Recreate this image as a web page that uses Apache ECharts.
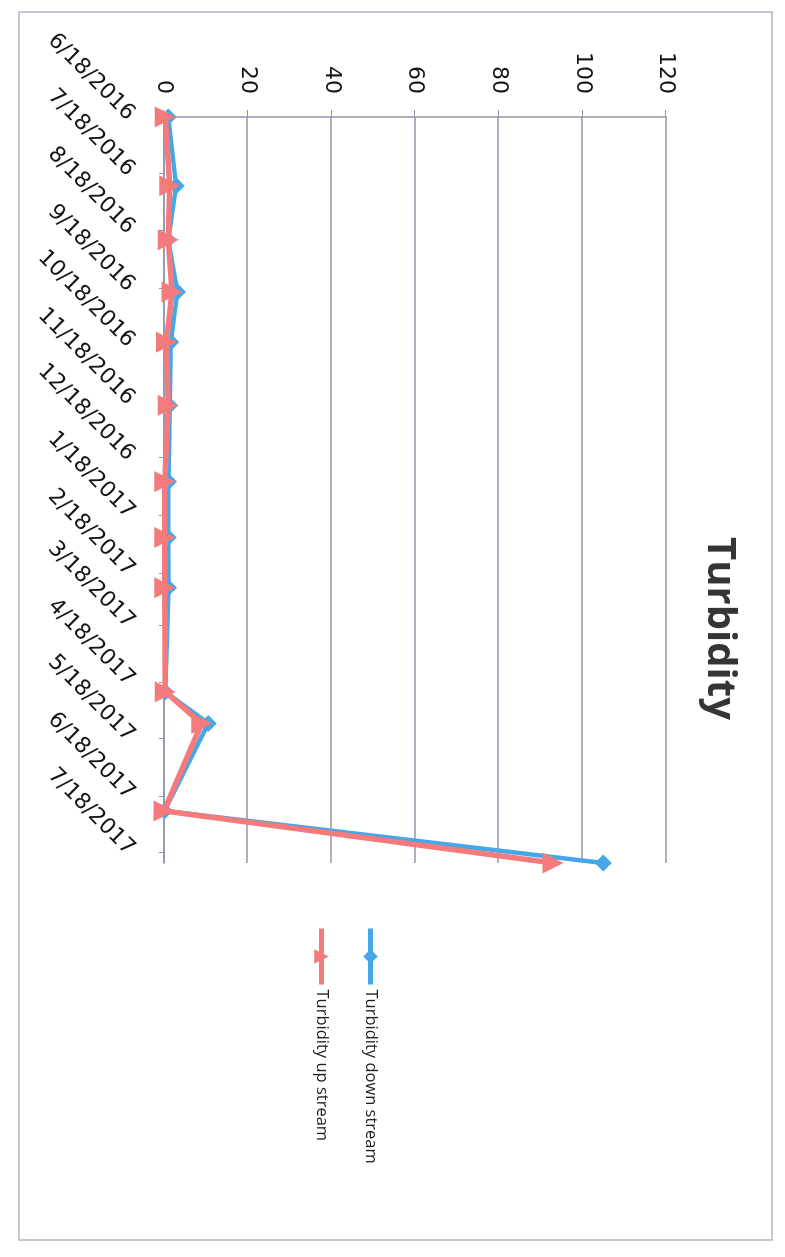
<!DOCTYPE html>
<html>
<head>
<meta charset="utf-8">
<script src="https://cdn.jsdelivr.net/npm/echarts@6/dist/echarts.min.js"></script>
<style>
  html, body { margin: 0; padding: 0; background: #ffffff; overflow: hidden; }
  body { width: 785px; height: 1257px; position: relative; }
  /* the sheet is printed landscape and turned a quarter clockwise on the page */
  #chart {
    position: absolute; left: 0; top: 0;
    width: 1257px; height: 785px;
    transform-origin: 0 0;
    transform: translateX(785px) rotate(90deg);
    background: #ffffff;
  }
</style>
</head>
<body>
<div id="chart"></div>
<script>
// sampling dates (M/D/YYYY)
const sampleDates = ['6/18/2016', '7/25/2016', '8/23/2016', '9/20/2016', '10/17/2016', '11/20/2016',
  '12/31/2016', '1/30/2017', '2/26/2017', '4/23/2017', '5/10/2017', '6/26/2017', '7/24/2017'];
// turbidity readings
const downStream = [1.0, 2.9, 1.0, 3.2, 1.6, 1.4, 1.1, 1.0, 1.1, 0.3, 10.6, 0.1, 105];
const upStream = [0.3, 1.4, 1.0, 1.9, 0.6, 1.0, 0.2, 0.2, 0.2, 0.3, 9.0, 0.0, 93];
// monthly date ticks
const dateTicks = ['6/18/2016', '7/18/2016', '8/18/2016', '9/18/2016', '10/18/2016', '11/18/2016',
  '12/18/2016', '1/18/2017', '2/18/2017', '3/18/2017', '4/18/2017', '5/18/2017', '6/18/2017', '7/18/2017'];
const valueTicks = [0, 20, 40, 60, 80, 100, 120];

const DAY = 86400000;
// dates are placed on a linear day scale (days since 1/1/1970, UTC)
function toDay(s) {
  const p = s.split('/').map(Number);
  return Math.round(Date.UTC(p[2], p[0] - 1, p[1]) / DAY);
}
function fmt(day) {
  const d = new Date(Math.round(day) * DAY);
  return (d.getUTCMonth() + 1) + '/' + d.getUTCDate() + '/' + d.getUTCFullYear();
}

const tickDays = dateTicks.map(toDay);
const seriesOf = vals => sampleDates.map((d, i) => [toDay(d), vals[i]]);

const chart = echarts.init(document.getElementById('chart'), null, { renderer: 'canvas' });
const gridColor = '#9494ac';
const labelFont = 'DejaVu Sans';
const blue = '#45a6e8';
const red = '#f47a7c';

chart.setOption({
  backgroundColor: '#ffffff',
  animation: false,
  title: {
    text: 'Turbidity',
    left: 'center',
    top: 41,
    textStyle: { fontFamily: 'Open Sans', fontWeight: 'bold', fontSize: 40, color: '#353535' }
  },
  graphic: [{
    type: 'rect',
    shape: { x: 12, y: 13, width: 1228, height: 753 },
    style: { fill: 'none', stroke: '#b4b4c6', lineWidth: 1.5 },
    silent: true
  }],
  legend: {
    orient: 'vertical',
    left: 921,
    top: 401,
    itemGap: 32,
    itemWidth: 56,
    itemHeight: 18,
    lineStyle: { width: 5 },
    textStyle: { fontFamily: 'Open Sans', fontSize: 16.5, color: '#1e1e1e' },
    data: ['Turbidity down stream', 'Turbidity up stream']
  },
  grid: { left: 117, right: 394, top: 119, bottom: 164, containLabel: false },
  xAxis: {
    type: 'value',
    min: toDay(sampleDates[0]),
    max: toDay(sampleDates[sampleDates.length - 1]),
    axisLine: { show: true, lineStyle: { color: gridColor, width: 1.5 } },
    axisTick: { show: true, customValues: tickDays, length: 5, lineStyle: { color: gridColor } },
    axisLabel: {
      customValues: tickDays,
      formatter: v => fmt(v),
      rotate: 45,
      margin: 33,
      fontFamily: labelFont,
      fontSize: 22,
      color: '#151515',
      showMinLabel: true,
      showMaxLabel: true
    },
    splitLine: { show: false }
  },
  yAxis: {
    type: 'value',
    min: valueTicks[0],
    max: valueTicks[valueTicks.length - 1],
    interval: valueTicks[1] - valueTicks[0],
    axisLine: { show: true, lineStyle: { color: gridColor, width: 1.5 } },
    axisTick: { show: true, length: 7, lineStyle: { color: gridColor } },
    axisLabel: { margin: 23, fontFamily: labelFont, fontSize: 22, color: '#151515' },
    splitLine: { show: true, lineStyle: { color: gridColor, width: 1.5 } }
  },
  series: [
    {
      name: 'Turbidity down stream',
      type: 'line',
      data: seriesOf(downStream),
      symbol: 'diamond',
      symbolSize: 17,
      lineStyle: { color: blue, width: 4.5 },
      itemStyle: { color: blue },
      z: 2
    },
    {
      name: 'Turbidity up stream',
      type: 'line',
      data: seriesOf(upStream),
      symbol: 'triangle',
      symbolSize: 21,
      lineStyle: { color: red, width: 5.5 },
      itemStyle: { color: red },
      z: 3
    }
  ]
});
</script>
</body>
</html>
